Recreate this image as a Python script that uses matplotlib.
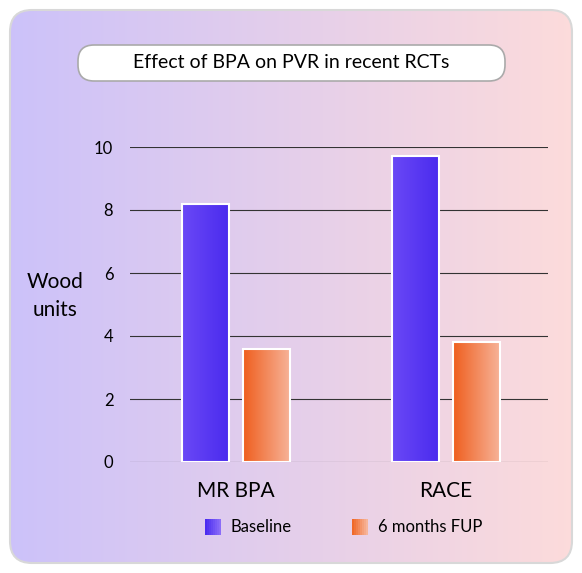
import numpy as np
import matplotlib
matplotlib.use("Agg")
import matplotlib.pyplot as plt
from matplotlib.patches import FancyBboxPatch, Rectangle

categories = ["MR BPA", "RACE"]
baseline = [8.2, 9.7]
fup = [3.6, 3.8]
series_names = ["Baseline", "6 months FUP"]
yticks = [0, 2, 4, 6, 8, 10]

plt.rcParams['font.family'] = ['Lato', 'DejaVu Sans']
W, H = 582, 573
fig = plt.figure(figsize=(W/100, H/100), dpi=100)

# background
bg = fig.add_axes([0, 0, 1, 1]); bg.set_xlim(0, W); bg.set_ylim(H, 0); bg.axis('off')
grad = np.linspace(0, 1, 256)[None, :]
c1 = np.array([0.80, 0.76, 0.98]); c2 = np.array([0.99, 0.86, 0.86])
img = c1[None, None, :] * (1 - grad[..., None]) + c2[None, None, :] * grad[..., None]
box = FancyBboxPatch((10, 10), 562, 553, boxstyle="round,pad=0,rounding_size=22",
                     fc='none', ec='#d8d8d8', lw=1.5)
bg.add_patch(box)
im = bg.imshow(img, extent=[10, 572, 563, 10], aspect='auto', zorder=0)
im.set_clip_path(box)
tb = FancyBboxPatch((78, 45), 427, 36, boxstyle="round,pad=0,rounding_size=16",
                    fc='white', ec='#aaaaaa', lw=1.2)
bg.add_patch(tb)
bg.text(291, 63, "Effect of BPA on PVR in recent RCTs", ha='center', va='center', fontsize=14)
bg.text(55, 296, "Wood\nunits", ha='center', va='center', fontsize=15, linespacing=1.5)

# legend
lg_cols = [(['#4b2df0', '#8a6cf8']), (['#f06a2a', '#f7b59a'])]
for xs, name, cols in zip([205, 352], series_names, lg_cols):
    for i in range(8):
        f = i / 7
        ca = np.array(matplotlib.colors.to_rgb(cols[0])); cb = np.array(matplotlib.colors.to_rgb(cols[1]))
        bg.add_patch(Rectangle((xs + i*2, 519), 2, 16, fc=ca*(1-f)+cb*f, ec='none'))
    bg.text(xs + 26, 527, name, va='center', fontsize=12)

ax = fig.add_axes([130/W, 1-462/H, 418/W, 315/H])
ax.patch.set_alpha(0)
ax.set_xlim(-0.505, 1.486); ax.set_ylim(0, 10)
for s in ax.spines.values(): s.set_visible(False)
ax.set_yticks(yticks); ax.tick_params(length=0, labelsize=12, pad=12)
ax.grid(axis='y', color='#333333', lw=0.8); ax.set_axisbelow(True)
x = np.arange(len(categories)); w = 0.224; off = 0.145
ax.set_xticks(x); ax.set_xticklabels(categories, fontsize=15)
ax.tick_params(axis='x', pad=14)

def grad_bar(xc, h, cA, cB):
    bar = ax.bar(xc, h, w, color='none', edgecolor='white', lw=1.5, zorder=3)[0]
    g = np.linspace(0, 1, 64)[None, :, None]
    a = np.array(matplotlib.colors.to_rgb(cA)); b = np.array(matplotlib.colors.to_rgb(cB))
    im2 = ax.imshow(a*(1-g)+b*g, extent=[xc-w/2, xc+w/2, 0, h], aspect='auto', zorder=2)
    im2.set_clip_path(bar)

for i in x:
    grad_bar(i - off, baseline[i], '#6a48f6', '#4a2bee')
    grad_bar(i + off, fup[i], '#ef5f1f', '#f7b49a')
ax.set_xlim(-0.505, 1.486); ax.set_ylim(0, 10)
fig.savefig("out.png", dpi=100)
